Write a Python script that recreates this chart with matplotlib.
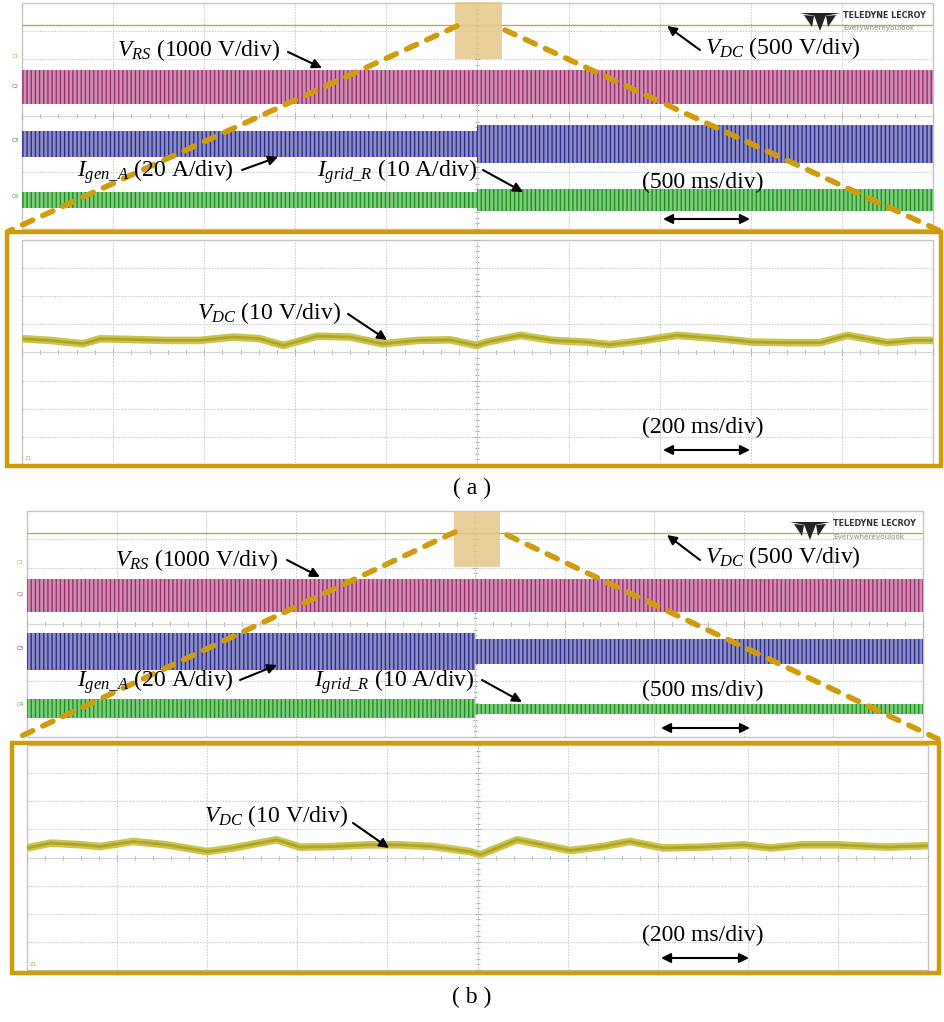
import numpy as np
import matplotlib
matplotlib.use("Agg")
import matplotlib.pyplot as plt
from matplotlib.patches import Rectangle, Polygon
from matplotlib.ticker import MultipleLocator

plt.rcParams['font.family'] = ['Liberation Serif', 'DejaVu Serif']
plt.rcParams['mathtext.fontset'] = 'custom'
plt.rcParams['mathtext.rm'] = 'Liberation Serif'
plt.rcParams['mathtext.it'] = 'Liberation Serif:italic'
plt.rcParams['mathtext.bf'] = 'DejaVu Sans:bold'
plt.rcParams['hatch.linewidth'] = 1.0

W, H = 945, 1022

# ---- data, in scope divisions (10 x 8 grid, centre = 0) ----
DIV_EDGES = [0, 1, 2, 3, 4, 5, 6, 7, 8, 9, 10]

# (a) 500 ms/div screen
VDC_LEVEL_A = 3.22
VRS_CENTER_A = 1.03
VRS_HALF_A = [0.60, 0.60, 0.60, 0.60, 0.60, 0.60, 0.60, 0.60, 0.60, 0.60]
IGEN_CENTER_A = -1.0
IGEN_HALF_A = [0.46, 0.46, 0.46, 0.46, 0.46, 0.67, 0.67, 0.67, 0.67, 0.67]
IGRID_CENTER_A = -2.97
IGRID_HALF_A = [0.28, 0.28, 0.28, 0.28, 0.28, 0.40, 0.40, 0.40, 0.40, 0.40]

# (a) zoomed VDC, 200 ms/div
ZOOM_T_A = [0, 0.31, 0.67, 0.86, 1.22, 1.59, 1.95, 2.32, 2.61, 2.87, 3.24,
            3.60, 3.96, 4.34, 4.70, 4.99, 5.10, 5.47, 5.83, 6.20, 6.45,
            6.75, 7.19, 7.66, 8.02, 8.40, 8.76, 9.06, 9.50, 9.78, 10]
ZOOM_VDC_A = [0.49, 0.43, 0.31, 0.49, 0.46, 0.43, 0.43, 0.55, 0.49, 0.25, 0.58,
              0.55, 0.31, 0.43, 0.45, 0.25, 0.37, 0.61, 0.43, 0.37, 0.28,
              0.39, 0.61, 0.49, 0.37, 0.35, 0.35, 0.61, 0.35, 0.43, 0.43]

# (b) 500 ms/div screen
VDC_LEVEL_B = 3.22
VRS_CENTER_B = 1.01
VRS_HALF_B = [0.58, 0.58, 0.58, 0.58, 0.58, 0.58, 0.58, 0.58, 0.58, 0.58]
IGEN_CENTER_B = -0.97
IGEN_HALF_B = [0.65, 0.65, 0.65, 0.65, 0.65, 0.44, 0.44, 0.44, 0.44, 0.44]
IGRID_CENTER_B = -3.0
IGRID_HALF_B = [0.34, 0.34, 0.34, 0.34, 0.34, 0.18, 0.18, 0.18, 0.18, 0.18]

# (b) zoomed VDC, 200 ms/div
ZOOM_T_B = [0, 0.26, 0.62, 0.81, 1.18, 1.55, 2.00, 2.29, 2.77, 3.03, 3.40,
            3.77, 4.14, 4.51, 4.92, 5.03, 5.44, 6.03, 6.39, 6.69, 7.06,
            7.50, 7.95, 8.25, 8.61, 8.99, 9.54, 10]
ZOOM_VDC_B = [0.34, 0.51, 0.45, 0.39, 0.57, 0.45, 0.21, 0.34, 0.63, 0.37, 0.39,
              0.45, 0.45, 0.39, 0.21, 0.10, 0.63, 0.25, 0.39, 0.57, 0.34,
              0.37, 0.45, 0.34, 0.45, 0.45, 0.37, 0.42]

ORANGE = '#d09c0e'
GRID_C = '#c6c6c6'

fig = plt.figure(figsize=(W / 100, H / 100), dpi=100)
fig.patch.set_facecolor('white')


def scope(x0, y0, x1, y1):
    ax = fig.add_axes([x0 / W, 1 - y1 / H, (x1 - x0) / W, (y1 - y0) / H])
    ax.set_xlim(0, 10)
    ax.set_ylim(-4, 4)
    ax.xaxis.set_major_locator(MultipleLocator(1))
    ax.yaxis.set_major_locator(MultipleLocator(1))
    ax.xaxis.set_minor_locator(MultipleLocator(0.2))
    ax.yaxis.set_minor_locator(MultipleLocator(0.2))
    ax.grid(True, which='major', color=GRID_C, lw=0.7, ls=(0, (1.5, 1.5)))
    ax.spines['bottom'].set_position(('data', 0))
    ax.spines['left'].set_position(('data', 5))
    for s in ['bottom', 'left']:
        ax.spines[s].set_color('#d4d4d4')
        ax.spines[s].set_linewidth(0.8)
    for s in ['top', 'right']:
        ax.spines[s].set_visible(False)
    ax.tick_params(which='both', direction='inout', color='#a8a8a8',
                   labelbottom=False, labelleft=False, width=0.7)
    ax.tick_params(which='major', length=4)
    ax.tick_params(which='minor', length=3)
    ax.add_patch(Rectangle((0, 0), 1, 1, transform=ax.transAxes, fill=False,
                           ec='#c4c4c4', lw=1.0, clip_on=False, zorder=1))
    return ax


def band(ax, center, half, line_c, face_c):
    h = np.array(half + half[-1:])
    ax.fill_between(DIV_EDGES, center - h, center + h, step='post',
                    facecolor=face_c, edgecolor=line_c, hatch='||||',
                    lw=0, zorder=3)


def overview(geom, vdc, vrs_c, vrs_h, igen_c, igen_h, igrid_c, igrid_h):
    ax = scope(*geom)
    ax.axhline(vdc, color='#b8ae3c', lw=1.0, zorder=3)
    band(ax, vrs_c, vrs_h, '#9a2e6c', '#cf8fb4')
    band(ax, igen_c, igen_h, '#2c2c86', '#8c8cc8')
    band(ax, igrid_c, igrid_h, '#228e22', '#7ccc7c')
    return ax


def zoomed(geom, t, v):
    ax = scope(*geom)
    ax.plot(t, v, color='#cbc44e', lw=5.5, solid_capstyle='butt', zorder=3)
    ax.plot(t, v, color='#b0a526', lw=2, zorder=4)
    return ax


overview((22, 3, 933, 229), VDC_LEVEL_A, VRS_CENTER_A, VRS_HALF_A,
         IGEN_CENTER_A, IGEN_HALF_A, IGRID_CENTER_A, IGRID_HALF_A)
zoomed((22, 240, 933, 465), ZOOM_T_A, ZOOM_VDC_A)
overview((27, 511, 923, 737), VDC_LEVEL_B, VRS_CENTER_B, VRS_HALF_B,
         IGEN_CENTER_B, IGEN_HALF_B, IGRID_CENTER_B, IGRID_HALF_B)
zoomed((27, 745, 928, 970), ZOOM_T_B, ZOOM_VDC_B)

# ---- overlay in pixel coordinates ----
ov = fig.add_axes([0, 0, 1, 1], zorder=10)
ov.set_xlim(0, W)
ov.set_ylim(H, 0)
ov.axis('off')
ov.patch.set_alpha(0)

FS = 17


def arrow(tail, head):
    ov.annotate('', xy=head, xytext=tail,
                arrowprops=dict(arrowstyle='-|>', color='k', lw=1.5,
                                mutation_scale=14, shrinkA=0, shrinkB=0))


def darrow(x0, x1, y):
    ov.annotate('', xy=(x1, y), xytext=(x0, y),
                arrowprops=dict(arrowstyle='<|-|>', color='k', lw=1.5,
                                mutation_scale=14, shrinkA=0, shrinkB=0))


def logo(x, y):
    ov.add_patch(Polygon([(x, y), (x + 40, y), (x + 20, y + 4)], closed=True, fc='#222', ec='none'))
    ov.add_patch(Polygon([(x + 14, y + 2), (x + 26, y + 2), (x + 20, y + 18)], closed=True, fc='#222', ec='none'))
    ov.add_patch(Polygon([(x + 4, y + 2), (x + 14, y + 3), (x + 12, y + 14)], closed=True, fc='#222', ec='none'))
    ov.add_patch(Polygon([(x + 36, y + 2), (x + 26, y + 3), (x + 28, y + 14)], closed=True, fc='#222', ec='none'))
    ov.text(x + 43, y + 2, 'TELEDYNE LECROY', family='DejaVu Sans',
            weight='bold', fontsize=5.8, va='center', ha='left', color='#333')
    ov.text(x + 43, y + 15, 'Everywhereyoulook', family='DejaVu Sans',
            fontsize=5.2, va='center', ha='left', color='#8a8a8a')


def chan_labels(x, ys, y_z):
    for lab, yy, c in zip(['C1', 'C2', 'C3', 'C4'], ys,
                          ['#b8ae3c', '#c0508f', '#4848a0', '#3aaa3a']):
        ov.text(x, yy, lab, fontsize=4, color=c, ha='center', va='center',
                family='DejaVu Sans')
    ov.text(x + 13, y_z, 'Z1', fontsize=4, color='#b8ae3c', ha='center',
            va='center', family='DejaVu Sans')


def panel(box, shade, left_line, right_line, txt, lab):
    sx0, sy0, sx1, sy1 = shade
    ov.add_patch(Rectangle((sx0, sy0), sx1 - sx0, sy1 - sy0,
                           fc='#e6c88a', ec='none', alpha=0.85, zorder=1))
    for (p0, p1) in (left_line, right_line):
        ov.plot([p0[0], p1[0]], [p0[1], p1[1]], color=ORANGE, lw=4,
                ls=(0, (2.0, 2.0)), dash_capstyle='round',
                solid_capstyle='round', zorder=3)
    bx0, by0, bx1, by1 = box
    ov.add_patch(Rectangle((bx0, by0), bx1 - bx0, by1 - by0, fill=False,
                           ec=ORANGE, lw=3.2, zorder=4))
    for s, (x, y), tail, head in txt:
        ov.text(x, y, s, fontsize=FS, ha='left', va='center', zorder=5)
        if tail is not None:
            arrow(tail, head)
    ov.text(472, lab[1], lab[0], fontsize=FS, ha='center', va='center')


# panel (a)
panel((7, 232, 941, 466), (455, 2, 502, 59),
      ((457, 26), (9, 231)), ((505, 30), (940, 231)),
      [(r'$V_{RS}$ (1000 V/div)', (117, 50), (288, 52), (322, 68)),
       (r'$V_{DC}$ (500 V/div)', (705, 48), (700, 50), (667, 26)),
       (r'$I_{gen\_A}$ (20 A/div)', (77, 172), (242, 170), (278, 157)),
       (r'$I_{grid\_R}$ (10 A/div)', (317, 172), (483, 170), (523, 192)),
       ('(500 ms/div)', (642, 182), None, None),
       (r'$V_{DC}$ (10 V/div)', (197, 313), (348, 314), (387, 340)),
       ('(200 ms/div)', (642, 427), None, None)],
      ('( a )', 488))
darrow(663, 750, 219)
darrow(663, 750, 450)
logo(800, 13)
chan_labels(15, [57, 87, 140, 196], 459)

# panel (b)
panel((12, 743, 939, 973), (454, 511, 500, 567),
      ((455, 532), (13, 740)), ((507, 535), (938, 739)),
      [(r'$V_{RS}$ (1000 V/div)', (115, 560), (287, 560), (320, 577)),
       (r'$V_{DC}$ (500 V/div)', (705, 557), (700, 560), (667, 535)),
       (r'$I_{gen\_A}$ (20 A/div)', (77, 682), (240, 680), (277, 665)),
       (r'$I_{grid\_R}$ (10 A/div)', (314, 682), (482, 680), (522, 702)),
       ('(500 ms/div)', (642, 690), None, None),
       (r'$V_{DC}$ (10 V/div)', (204, 816), (353, 823), (389, 848)),
       ('(200 ms/div)', (642, 935), None, None)],
      ('( b )', 997))
darrow(661, 750, 728)
darrow(661, 749, 958)
logo(790, 522)
chan_labels(20, [563, 595, 648, 704], 964)

fig.savefig('out.png', dpi=100, facecolor='white')
